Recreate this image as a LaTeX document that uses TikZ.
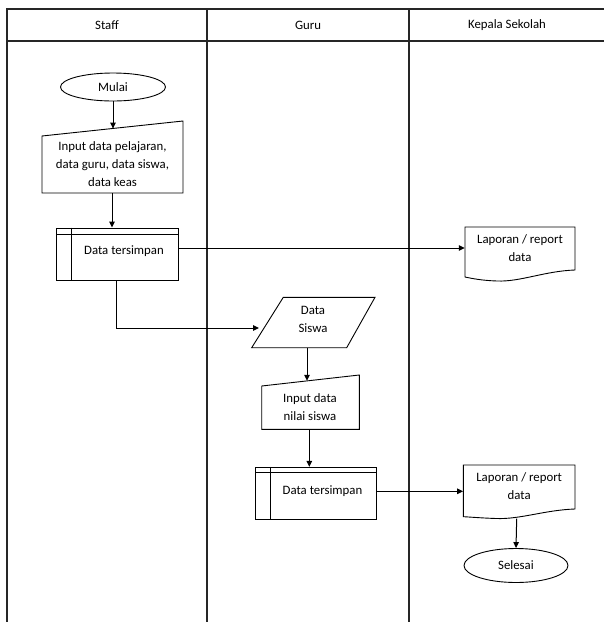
\documentclass[tikz,border=0pt]{standalone}
\usepackage{fontspec}
\setmainfont{Carlito}
\usetikzlibrary{shapes.geometric,arrows.meta}
\begin{document}
\begin{tikzpicture}[x=1pt,y=-1pt,
  font=\fontsize{12.8}{18}\selectfont,
  lane/.style={line width=1.3pt, draw=black!85},
  shp/.style={draw, line width=0.9pt},
  txt/.style={inner sep=0pt, align=center},
  conn/.style={line width=1pt, -{Triangle[length=6pt,width=5.5pt]}}]
\useasboundingbox (0,0) rectangle (604,622);
% swimlanes
\draw[lane] (604,9) -- (7,9) -- (7,622);
\draw[lane] (7,41) -- (604,41);
\draw[lane] (207,9) -- (207,622);
\draw[lane] (409,9) -- (409,622);
\node[txt] (hstaff) at (107,25) {Staff};
\node[txt] (hguru) at (308,25) {Guru};
\node[txt] (hkep) at (507,25) {Kepala Sekolah};
% Mulai
\node[shp, ellipse, minimum width=105pt, minimum height=28pt, inner sep=0pt] (mulai) at (113,87) {Mulai};
% Input 1
\node[txt, minimum width=141pt] (in1) at (112.5,164.5) {Input data pelajaran,\\data guru, data siswa,\\data keas};
\draw[shp] (42,136) -- (183,121) -- (183,193) -- (42,193) -- cycle;
\coordinate (in1top) at (mulai.south |- 0,128.6);
\coordinate (in1bot) at (112,193);
% Data tersimpan 1
\node[shp, minimum width=121.6pt, minimum height=52pt, inner sep=0pt] (dt1) at (117.5,254) {};
\draw[shp] ([yshift=-6.7pt]dt1.north west) -- ([yshift=-6.7pt]dt1.north east);
\draw[shp] ([xshift=15.6pt]dt1.north west) -- ([xshift=15.6pt]dt1.south west);
\node[txt] (dt1t) at (124,251) {Data tersimpan};
% Laporan 1
\node[txt, minimum width=110pt] (lap1) at (520,248) {Laporan / report\\data};
\draw[shp] (465,227) -- (575,227) -- (575,270) .. controls (545,271) and (520,282) .. (497,281) .. controls (482,280.5) and (472,278.5) .. (465,277) -- cycle;
% Data Siswa
\node[txt] (ds) at (313,319) {Data\\Siswa};
\draw[shp] (283.3,297.3) -- (375,297.3) -- (346.7,347.7) -- (251.7,347.7) -- cycle;
\coordinate (dsin) at (259,328);
\coordinate (dsbot) at (307,347.7);
% Input 2
\node[txt] (in2) at (310,407.5) {Input data\\nilai siswa};
\draw[shp] (261.7,386) -- (359.3,375) -- (359.3,429.3) -- (261.7,429.3) -- cycle;
\coordinate (in2top) at (307,380.8);
\coordinate (in2bot) at (309.3,429.3);
% Data tersimpan 2
\node[shp, minimum width=121pt, minimum height=52pt, inner sep=0pt] (dt2) at (316.2,493.3) {};
\draw[shp] ([yshift=-6pt]dt2.north west) -- ([yshift=-6pt]dt2.north east);
\draw[shp] ([xshift=15.3pt]dt2.north west) -- ([xshift=15.3pt]dt2.south west);
\node[txt] (dt2t) at (322.5,490.7) {Data tersimpan};
\coordinate (dt2e) at ([yshift=2pt]dt2.east);
% Laporan 2
\node[txt, minimum width=111.7pt] (lap2) at (519.2,486.2) {Laporan / report\\data};
\draw[shp] (463.3,465) -- (575,465) -- (575,509) .. controls (545,510) and (520,519.5) .. (496,518.5) .. controls (481,518) and (470,517) .. (463.3,516.7) -- cycle;
\coordinate (lap2bot) at (516.7,518.7);
% Selesai
\node[shp, ellipse, minimum width=104pt, minimum height=34pt, inner sep=0pt] (sel) at (516,565.5) {Selesai};
% connectors
\draw[conn] (mulai.south) -- (in1top);
\draw[conn] (in1bot) -- (in1bot |- dt1.north);
\draw[conn] (dt1.east |- lap1.west) -- (lap1.west);
\draw[conn] ([xshift=-1.5pt]dt1.south) |- (dsin);
\draw[conn] (dsbot) -- (in2top);
\draw[conn] (in2bot) -- (in2bot |- dt2.north);
\draw[conn] (dt2e) -- (dt2e -| lap2.west);
\draw[conn] (lap2bot) -- (sel.north);
\end{tikzpicture}
\end{document}
